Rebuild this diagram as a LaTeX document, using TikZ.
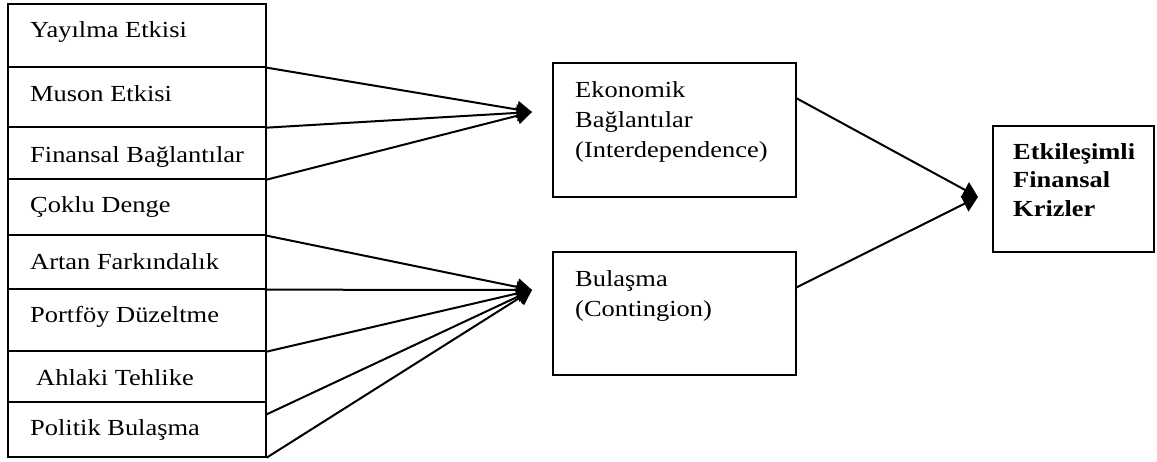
\documentclass[tikz,border=0pt]{standalone}
\usepackage{fontspec}
\setmainfont{Liberation Serif}[FakeStretch=1.15]
\usetikzlibrary{arrows.meta,calc}
\begin{document}
\begin{tikzpicture}[x=1pt,y=-1pt,
  cell/.style={draw,line width=1.3pt,rectangle,inner sep=0pt,minimum width=258pt},
  box/.style={draw,line width=1.3pt,rectangle,inner sep=0pt},
  txt/.style={anchor=base west,inner sep=0pt,font=\fontsize{23}{28}\selectfont},
  btxt/.style={txt,font=\fontsize{23}{28}\selectfont\bfseries},
  link/.style={line width=2pt,-{Triangle[length=15pt,width=17pt]}}
]
\useasboundingbox (0,0) rectangle (1157,462);

% left column of factors
\node[cell,minimum height=63pt] (r1) at (137,35.5) {};
\node[cell,minimum height=60pt] (r2) at (137,97) {};
\node[cell,minimum height=52pt] (r3) at (137,153) {};
\node[cell,minimum height=56pt] (r4) at (137,207) {};
\node[cell,minimum height=54pt] (r5) at (137,262) {};
\node[cell,minimum height=62pt] (r6) at (137,320) {};
\node[cell,minimum height=51pt] (r7) at (137,376.5) {};
\node[cell,minimum height=55pt] (r8) at (137,429.5) {};

\node[txt] (t1) at (30,38) {Yayılma Etkisi};
\node[txt] (t2) at (30,102) {Muson Etkisi};
\node[txt] (t3) at (30,163) {Finansal Bağlantılar};
\node[txt] (t4) at (30,213) {Çoklu Denge};
\node[txt] (t5) at (30,270) {Artan Farkındalık};
\node[txt] (t6) at (30,323) {Portföy Düzeltme};
\node[txt] (t7) at (36,385) {Ahlaki Tehlike};
\node[txt] (t8) at (30,435) {Politik Bulaşma};

% middle boxes
\node[box,minimum width=243pt,minimum height=134pt] (eko) at (674.5,130) {};
\node[txt] (e1) at (575,98) {Ekonomik};
\node[txt] (e2) at (575,128) {Bağlantılar};
\node[txt] (e3) at (575,158) {(Interdependence)};

\node[box,minimum width=243pt,minimum height=123pt] (bul) at (674.5,313.5) {};
\node[txt] (b1) at (575,287) {Bulaşma};
\node[txt] (b2) at (575,317) {(Contingion)};

% result box
\node[box,minimum width=161pt,minimum height=126pt] (res) at (1073.5,189) {};
\node[btxt] (k1) at (1013,160) {Etkileşimli};
\node[btxt] (k2) at (1013,188) {Finansal};
\node[btxt] (k3) at (1013,217) {Krizler};

% arrow targets
\coordinate (ekoin) at (532,112);
\coordinate (bulin) at (532,290);
\coordinate (resin) at (978,197);
\coordinate (p8) at ($(r8.north east)+(0,13)$);

% connectors into the interdependence box
\draw[link] (r1.south east) -- (ekoin);
\draw[link] (r2.south east) -- (ekoin);
\draw[link] (r3.south east) -- (ekoin);

% connectors into the contagion box
\draw[link] (r4.south east) -- (bulin);
\draw[link] (r5.south east) -- (bulin);
\draw[link] (r6.south east) -- (bulin);
\draw[link] (p8) -- (bulin);
\draw[link] (r8.south east) -- (bulin);

% connectors into the result
\draw[link] ($(eko.north east)+(0,36)$) -- (resin);
\draw[link] ($(bul.north east)+(0,36)$) -- (resin);
\end{tikzpicture}
\end{document}
